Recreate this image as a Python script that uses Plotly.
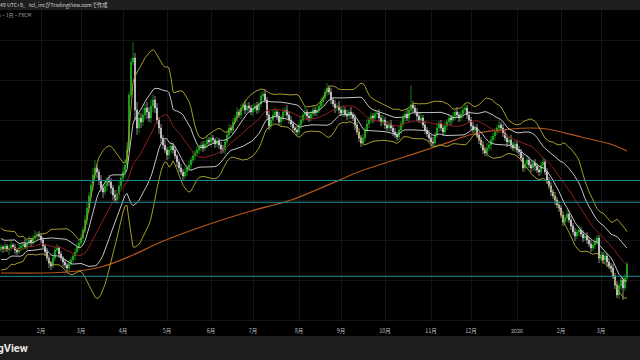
import numpy as np
import pandas as pd
import plotly.graph_objects as go

# ---------------- data (daily candles, FXCM) ----------------
dates = pd.bdate_range("2025-01-06", periods=314)

# closes of the 19 sessions before the first visible bar (used only for the 20-day bands)
prior_closes = [36.8, 36.0, 34.4, 33.4, 33.8, 34.8, 35.8, 37.0, 36.4, 35.0,
                34.2, 33.4, 33.8, 35.0, 35.8, 36.4, 35.4, 34.6, 35.0]

closes = [
    35.3, 35.1, 35.4, 35.0, 35.2, 35.5, 35.3, 35.0, 34.8, 35.2,
    35.4, 35.6, 35.3, 35.7, 36.0, 35.8, 36.2, 36.4, 36.6, 36.4,
    36.0, 35.4, 34.8, 34.2, 33.7, 33.4, 34.2, 35.0, 35.2, 34.6,
    34.2, 33.8, 33.5, 33.2, 33.6, 34.0, 34.4, 34.8, 35.3, 35.7,
    36.2, 37.0, 38.0, 39.2, 40.4, 41.5, 42.5, 43.2, 42.8, 42.0,
    41.2, 40.8, 41.4, 42.0, 41.8, 41.2, 40.5, 40.0, 40.6, 41.4,
    42.2, 42.8, 43.5, 45.0, 50.5, 53.8, 54.2, 49.0, 47.2, 48.2,
    47.8, 48.5, 49.2, 48.8, 48.2, 49.4, 50.0, 49.2, 48.0, 47.2,
    46.2, 45.5, 45.0, 44.5, 45.0, 45.4, 45.0, 44.4, 43.8, 43.2,
    42.8, 42.4, 42.8, 43.2, 43.5, 44.0, 44.4, 44.7, 45.0, 45.2,
    45.5, 45.2, 45.6, 46.0, 45.8, 46.2, 46.0, 45.6, 45.9, 45.5,
    45.1, 45.0, 45.8, 46.5, 47.2, 47.0, 47.8, 48.2, 48.8, 48.5,
    49.2, 49.5, 49.0, 49.4, 49.2, 48.8, 49.1, 49.4, 49.0, 49.6,
    50.4, 50.6, 50.0, 48.5, 47.4, 48.0, 48.5, 48.8, 48.4, 47.8,
    48.2, 48.8, 49.0, 48.5, 48.0, 47.6, 47.2, 47.0, 46.8, 47.5,
    48.0, 48.5, 48.8, 48.4, 48.2, 48.6, 49.0, 48.7, 49.0, 49.4,
    49.8, 50.2, 50.8, 51.2, 50.8, 50.0, 49.6, 49.2, 49.4, 49.0,
    48.7, 49.0, 48.6, 48.4, 48.8, 48.5, 48.2, 47.5, 46.8, 46.2,
    45.7, 46.2, 47.0, 47.6, 48.0, 48.4, 48.2, 48.6, 48.7, 48.2,
    47.8, 48.0, 47.5, 47.2, 47.6, 47.2, 46.8, 46.5, 46.3, 47.0,
    47.6, 48.2, 48.6, 48.2, 49.0, 49.5, 49.2, 48.8, 48.4, 48.0,
    48.2, 47.5, 47.0, 46.6, 46.2, 45.8, 45.7, 46.5, 47.2, 47.6,
    47.2, 46.8, 47.4, 47.8, 48.2, 48.0, 48.4, 48.8, 48.5, 48.2,
    48.6, 49.0, 49.2, 48.5, 48.0, 47.4, 47.0, 47.2, 46.5, 46.0,
    45.5, 45.0, 44.7, 45.2, 45.5, 46.0, 46.4, 46.8, 47.2, 47.5,
    47.2, 46.7, 46.2, 45.8, 46.0, 45.5, 45.2, 45.6, 45.0, 44.8,
    44.2, 43.2, 43.6, 44.0, 43.5, 43.2, 43.7, 43.4, 43.0, 42.8,
    43.5, 43.8, 42.8, 42.0, 41.4, 40.8, 40.4, 40.0, 39.5, 39.2,
    38.5, 37.8, 38.2, 38.6, 38.0, 37.4, 36.8, 36.4, 36.8, 37.0,
    36.6, 36.2, 36.4, 36.0, 35.6, 35.2, 35.5, 35.8, 36.2, 34.2,
    34.5, 34.0, 34.4, 33.8, 33.4, 33.2, 32.4, 31.5, 30.5, 31.4,
    32.0, 31.2, 32.2, 33.6]

upper_wick = [
    0.3, 0.2, 0.4, 0.2, 0.3, 0.5, 0.2, 0.3, 0.2, 0.4,
    0.3, 0.2, 0.5, 0.3, 0.4, 0.2, 0.3, 0.6, 0.2, 0.3,
    0.2, 0.3, 0.2, 0.4, 0.3, 0.2, 0.5, 0.3, 0.4, 0.2,
    0.3, 0.2, 0.3, 0.2, 0.4, 0.3, 0.2, 0.3, 0.4, 0.3,
    0.4, 0.3, 0.5, 0.6, 0.4, 0.5, 0.7, 0.8, 0.4, 0.3,
    0.5, 0.4, 0.6, 0.3, 0.5, 0.4, 0.3, 0.5, 0.4, 0.6,
    0.4, 0.5, 0.6, 0.8, 0.3, 0.4, 1.6, 0.5, 0.8, 0.6,
    0.5, 0.7, 0.4, 0.6, 0.5, 0.7, 0.6, 0.4, 0.5, 0.3,
    0.4, 0.3, 0.5, 0.3, 0.4, 0.5, 0.3, 0.4, 0.2, 0.3,
    0.4, 0.3, 0.5, 0.3, 0.4, 0.3, 0.5, 0.3, 0.4, 0.3,
    0.3, 0.4, 0.3, 0.5, 0.3, 0.4, 0.3, 0.2, 0.4, 0.3,
    0.3, 0.4, 0.3, 0.5, 0.4, 0.3, 0.4, 0.3, 0.5, 0.3,
    0.4, 0.3, 0.5, 0.3, 0.4, 0.3, 0.5, 0.3, 0.4, 0.3,
    0.4, 0.3, 0.5, 0.3, 0.4, 0.3, 0.5, 0.4, 0.3, 0.4,
    0.3, 0.4, 0.3, 0.5, 0.3, 0.4, 0.3, 0.2, 0.4, 0.3,
    0.4, 0.3, 0.5, 0.3, 0.4, 0.3, 0.4, 0.3, 0.4, 0.3,
    0.4, 0.3, 0.3, 0.5, 0.3, 0.4, 0.3, 0.4, 0.3, 0.5,
    0.3, 0.4, 0.3, 0.4, 0.3, 0.5, 0.3, 0.4, 0.3, 0.4,
    0.3, 0.4, 0.3, 0.5, 0.3, 0.4, 0.3, 0.4, 0.3, 0.4,
    0.3, 0.5, 0.3, 0.4, 0.3, 0.4, 0.3, 0.4, 0.3, 0.4,
    0.3, 0.4, 0.3, 0.5, 0.3, 2.0, 0.4, 0.3, 0.4, 0.3,
    0.5, 0.3, 0.4, 0.3, 0.4, 0.3, 0.5, 0.3, 0.4, 0.3,
    0.4, 0.3, 0.5, 0.3, 0.4, 0.3, 0.4, 0.3, 0.5, 0.3,
    0.4, 0.3, 0.5, 0.3, 0.4, 0.3, 0.4, 0.3, 0.4, 0.3,
    0.3, 0.4, 0.3, 0.5, 0.3, 0.4, 0.3, 0.4, 0.3, 0.5,
    0.3, 0.4, 0.3, 0.4, 0.3, 0.5, 0.3, 0.4, 0.3, 0.4,
    0.3, 0.4, 0.3, 0.5, 0.3, 0.4, 0.3, 0.4, 0.3, 0.4,
    0.3, 0.5, 0.3, 0.4, 0.3, 0.4, 0.3, 0.4, 0.3, 0.4,
    0.3, 0.4, 0.3, 0.5, 0.3, 0.4, 0.3, 0.4, 0.3, 0.5,
    0.3, 0.4, 0.3, 0.4, 0.3, 0.4, 0.3, 0.4, 0.3, 0.3,
    0.4, 0.3, 0.5, 0.3, 0.4, 0.3, 0.4, 0.3, 0.4, 0.3,
    0.5, 0.3, 0.4, 0.2]

lower_wick = [
    0.2, 0.4, 0.3, 0.2, 0.5, 0.3, 0.2, 0.4, 0.3, 0.2,
    0.3, 0.4, 0.2, 0.3, 0.2, 0.4, 0.3, 0.2, 0.3, 0.2,
    0.3, 0.2, 0.4, 0.3, 0.5, 0.4, 0.2, 0.3, 0.2, 0.4,
    0.3, 0.5, 0.3, 0.4, 0.3, 0.2, 0.3, 0.4, 0.2, 0.3,
    0.3, 0.4, 0.3, 0.5, 0.4, 0.3, 0.5, 0.4, 0.6, 0.5,
    0.4, 0.6, 0.3, 0.5, 0.4, 0.6, 0.5, 0.3, 0.4, 0.5,
    0.3, 0.4, 0.5, 0.3, 0.2, 0.3, 0.3, 1.0, 0.7, 0.5,
    0.6, 0.4, 0.5, 0.7, 0.4, 0.5, 0.6, 0.5, 0.4, 0.6,
    0.5, 0.4, 0.3, 0.5, 0.4, 0.3, 0.4, 0.3, 0.5, 0.4,
    0.3, 0.4, 0.3, 0.4, 0.3, 0.5, 0.3, 0.4, 0.3, 0.4,
    0.3, 0.4, 0.3, 0.4, 0.3, 0.5, 0.3, 0.4, 0.3, 0.4,
    0.5, 0.3, 0.4, 0.3, 0.4, 0.3, 0.4, 0.3, 0.4, 0.3,
    0.4, 0.3, 0.4, 0.3, 0.5, 0.3, 0.4, 0.3, 0.4, 0.3,
    0.3, 0.4, 0.3, 0.5, 0.4, 0.3, 0.4, 0.3, 0.4, 0.3,
    0.4, 0.3, 0.4, 0.3, 0.4, 0.3, 0.5, 0.3, 0.4, 0.3,
    0.4, 0.3, 0.4, 0.3, 0.4, 0.3, 0.5, 0.3, 0.4, 0.3,
    0.3, 0.4, 0.3, 0.4, 0.3, 0.4, 0.3, 0.5, 0.3, 0.4,
    0.3, 0.4, 0.3, 0.4, 0.3, 0.4, 0.3, 0.5, 0.3, 0.4,
    0.4, 0.3, 0.4, 0.3, 0.4, 0.3, 0.5, 0.3, 0.4, 0.3,
    0.4, 0.3, 0.4, 0.3, 0.5, 0.3, 0.4, 0.3, 0.4, 0.3,
    0.4, 0.3, 0.4, 0.3, 0.4, 0.3, 0.4, 0.3, 0.5, 0.3,
    0.4, 0.3, 0.4, 0.3, 0.4, 0.5, 0.3, 0.4, 0.3, 0.4,
    0.3, 0.4, 0.3, 0.4, 0.3, 0.5, 0.3, 0.4, 0.3, 0.4,
    0.3, 0.4, 0.3, 0.4, 0.3, 0.5, 0.3, 0.4, 0.3, 0.4,
    0.3, 0.4, 0.3, 0.4, 0.3, 0.5, 0.3, 0.4, 0.3, 0.4,
    0.3, 0.4, 0.3, 0.5, 0.3, 0.4, 0.3, 0.4, 0.3, 0.4,
    0.3, 0.4, 0.3, 0.4, 0.3, 0.4, 0.3, 0.5, 0.3, 0.4,
    0.3, 0.4, 0.3, 0.4, 0.3, 0.4, 0.3, 0.5, 0.3, 0.4,
    0.3, 0.4, 0.3, 0.4, 0.3, 0.4, 0.3, 0.5, 0.3, 0.4,
    0.3, 0.4, 0.3, 0.4, 0.3, 0.4, 0.3, 0.4, 0.3, 0.5,
    0.3, 0.4, 0.3, 0.5, 0.3, 0.4, 0.3, 0.4, 0.3, 0.4,
    0.4, 1.2, 0.3, 0.2]

# long moving average, by bar index
ma_long_idx = [0, 33, 50, 66, 80, 100, 125, 145, 175, 180, 200, 220, 236, 250, 265, 273, 290, 306, 313]
ma_long_val = [32.7, 32.8, 33.3, 34.5, 35.8, 37.3, 38.9, 40.0, 42.5, 42.9, 44.2, 45.5, 46.6, 47.0,
               47.2, 47.1, 46.3, 45.5, 44.9]

# horizontal levels (cyan drawings)
levels = [41.95, 39.77, 32.37]

title_text = "2026年3月18日 16:49 UTC+9、 tcl_incがTradingView.comで作成"
symbol_text = "U.S. Dollars・1日・FXCM"

# ---------------- derived table ----------------
n = len(closes)
idx = np.arange(n)
opens = [prior_closes[-1]] + closes[:-1]
highs = [max(o, c) + w for o, c, w in zip(opens, closes, upper_wick)]
lows = [min(o, c) - w for o, c, w in zip(opens, closes, lower_wick)]

allc = pd.Series(prior_closes + closes)
basis = allc.rolling(20).mean().iloc[len(prior_closes):].to_numpy()
sd = allc.rolling(20).std(ddof=0).iloc[len(prior_closes):].to_numpy()

tickvals, ticktext = [], []
for k in range(1, n):
    if dates[k].month != dates[k - 1].month:
        tickvals.append(k)
        ticktext.append("2026" if dates[k].month == 1 else f"{dates[k].month}月")

GREEN = "#22c422"
WHITE = "#e8e8e8"
YEL = "#a39b2b"
GRAYW = "#c4c4c4"
RED = "#8e1f1f"
ORANGE = "#b5561c"
CYAN = "#1b8c96"

fig = go.Figure()
fig.add_trace(go.Candlestick(
    x=idx, open=opens, high=highs, low=lows, close=closes,
    increasing=dict(line=dict(color=GREEN, width=0.6), fillcolor=GREEN),
    decreasing=dict(line=dict(color=WHITE, width=0.6), fillcolor=WHITE),
    whiskerwidth=0, hoverinfo="skip", showlegend=False))

fig.add_trace(go.Scatter(x=ma_long_idx, y=ma_long_val, mode="lines",
                         line=dict(color=ORANGE, width=1.2, shape="spline"), hoverinfo="skip"))
for mult, col in [(2, YEL), (1, GRAYW)]:
    fig.add_trace(go.Scatter(x=idx, y=basis + mult * sd, mode="lines",
                             line=dict(color=col, width=1), hoverinfo="skip"))
    fig.add_trace(go.Scatter(x=idx, y=basis - mult * sd, mode="lines",
                             line=dict(color=col, width=1), hoverinfo="skip"))
fig.add_trace(go.Scatter(x=idx, y=basis, mode="lines",
                         line=dict(color=RED, width=1), hoverinfo="skip"))

shapes = []
for lv in levels:
    shapes.append(dict(type="line", xref="paper", x0=0, x1=1, yref="y", y0=lv, y1=lv,
                       line=dict(color=CYAN, width=1), layer="above"))
PH = 312.0
shapes.append(dict(type="rect", xref="paper", x0=0, x1=1, yref="paper", y0=1, y1=1 + 10 / PH,
                   fillcolor="#1e1e1e", line=dict(width=0), layer="above"))
shapes.append(dict(type="rect", xref="paper", x0=0, x1=1, yref="paper", y0=-38 / PH, y1=-14 / PH,
                   fillcolor="#1e1e1e", line=dict(width=0), layer="above"))

annotations = [
    dict(text=title_text, xref="paper", yref="paper", x=109 / 640, y=1 + 5 / PH,
         xanchor="right", yanchor="middle", showarrow=False,
         font=dict(family="Noto Sans CJK JP", size=5.2, color="#d6d6d6")),
    dict(text=symbol_text, xref="paper", yref="paper", x=33 / 640, y=1 - 5 / PH,
         xanchor="right", yanchor="middle", showarrow=False,
         font=dict(family="Noto Sans CJK JP", size=5, color="#a8a8a8")),
    dict(text="<b>TradingView</b>", xref="paper", yref="paper", x=30 / 640, y=-26 / PH,
         xanchor="right", yanchor="middle", showarrow=False,
         font=dict(family="Roboto", size=11, color="#e6e6e6")),
]

fig.update_layout(
    width=640, height=360, margin=dict(l=0, r=0, t=10, b=38),
    paper_bgcolor="#000000", plot_bgcolor="#000000",
    showlegend=False, shapes=shapes, annotations=annotations,
    xaxis=dict(range=[-0.5, 319.5], tickvals=tickvals, ticktext=ticktext,
               showgrid=True, gridcolor="#141414", gridwidth=1, zeroline=False,
               ticks="", ticklabelstandoff=4,
               tickfont=dict(family="Noto Sans CJK JP", size=5.5, color="#bdbdbd"),
               rangeslider=dict(visible=False), fixedrange=True),
    yaxis=dict(range=[27.8, 59.0], showticklabels=False, showgrid=True,
               gridcolor="#141414", gridwidth=1, tick0=0, dtick=4, zeroline=False,
               fixedrange=True),
)

fig.write_html("out.html", config={"displayModeBar": False},
               post_script="document.body.style.margin='0';document.body.style.overflow='hidden';")
